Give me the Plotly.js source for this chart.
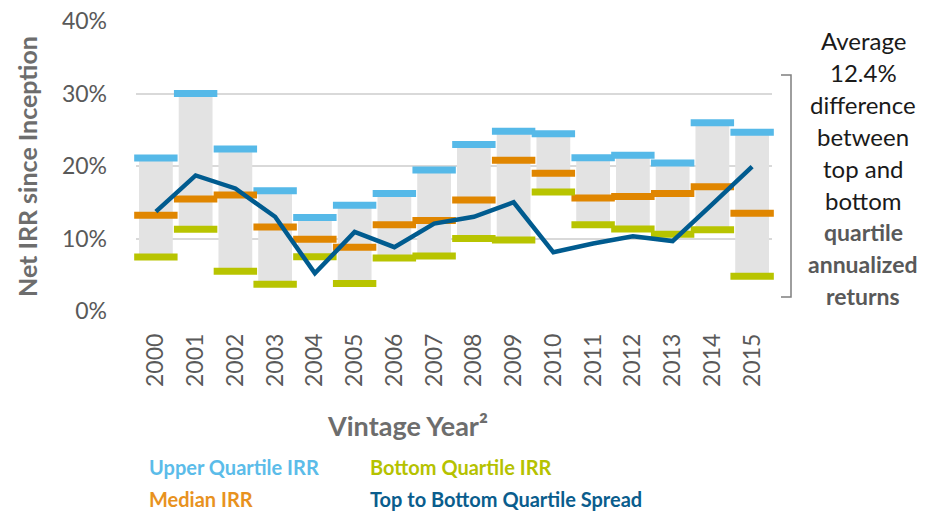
<!DOCTYPE html>
<html><head><meta charset="utf-8">
<script src="https://cdn.plot.ly/plotly-3.0.1.min.js"></script>
<style>html,body{margin:0;padding:0;background:#fff;}#chart{width:925px;height:515px;}</style>
</head><body><div id="chart"></div>
<script>
const years = ['2000','2001','2002','2003','2004','2005','2006','2007','2008','2009','2010','2011','2012','2013','2014','2015'];
const upper = [21.1,30.0,22.35,16.6,12.9,14.6,16.2,19.45,22.95,24.8,24.45,21.15,21.5,20.4,25.95,24.65];
const median = [13.2,15.45,16.0,11.6,9.9,8.8,11.9,12.5,15.3,20.8,19.0,15.6,15.8,16.2,17.15,13.5];
const bottom = [7.45,11.27,5.5,3.7,7.5,3.8,7.3,7.6,10.0,9.8,16.4,11.9,11.3,10.6,11.2,4.8];
const spread = [13.7,18.7,16.9,13.0,5.2,10.9,8.8,12.05,13.0,15.0,8.1,9.3,10.3,9.65,14.75,19.9];
const yTicks = [0,10,20,30,40];
const yTickText = ['0%','10%','20%','30%','40%'];
const legendItems = [
  {text:'Upper Quartile IRR', color:'#5bbce9', col:0, row:0},
  {text:'Median IRR', color:'#e8921e', col:0, row:1},
  {text:'Bottom Quartile IRR', color:'#b5c200', col:1, row:0},
  {text:'Top to Bottom Quartile Spread', color:'#0a5d8d', col:1, row:1}
];
const noteLines = ['Average','12.4%','difference','between','top and','bottom','quartile','annualized','returns'];

const W = 925, H = 515;
const M = {l:136, r:153, t:21, b:204};
const pw = W - M.l - M.r, ph = H - M.t - M.b;
const px2x = x => (x - M.l) / pw;
const px2y = y => (H - M.b - y) / ph;

const FONT = 'Lato, "Open Sans", sans-serif';

const traces = [
  {type:'bar', x:years, y:upper.map((u,i)=>u-bottom[i]), base:bottom, width:0.85,
   marker:{color:'#e3e3e3', line:{width:0}}, hoverinfo:'skip', showlegend:false},
  {type:'scatter', mode:'markers', x:years, y:upper, cliponaxis:false, showlegend:false,
   marker:{symbol:'line-ew', size:31, line:{width:7, color:'#56b9e8'}}},
  {type:'scatter', mode:'markers', x:years, y:median, cliponaxis:false, showlegend:false,
   marker:{symbol:'line-ew', size:31, line:{width:7, color:'#e08600'}}},
  {type:'scatter', mode:'markers', x:years, y:bottom, cliponaxis:false, showlegend:false,
   marker:{symbol:'line-ew', size:31, line:{width:7, color:'#b8c400'}}},
  {type:'scatter', mode:'lines', x:years, y:spread, cliponaxis:false, showlegend:false,
   line:{color:'#005b8f', width:4.5}}
];

const annotations = [];
legendItems.forEach(it => {
  annotations.push({xref:'paper', yref:'paper', x:px2x(it.col===0?147:368), y:px2y(it.row===0?467:499),
    xanchor:'left', yanchor:'middle', showarrow:false, text:'<b>'+it.text+'</b>',
    font:{family:FONT, size:20, color:it.color}});
});
noteLines.forEach((t,i) => {
  const bold = i >= 6;
  annotations.push({xref:'paper', yref:'paper', x:px2x(863), y:px2y(40 + i*32),
    xanchor:'center', yanchor:'middle', showarrow:false,
    text: bold ? '<b>'+t+'</b>' : t,
    font:{family:FONT, size:bold?23:24, color: bold ? '#595959' : '#1a1a1a'}});
});
annotations.push({xref:'paper', yref:'paper', x:px2x(407), y:px2y(425), xanchor:'center', yanchor:'middle',
  showarrow:false, text:'<b>Vintage Year²</b>', font:{family:FONT, size:27, color:'#6d6d6d'}});
annotations.push({xref:'paper', yref:'paper', x:px2x(27), y:px2y(167), xanchor:'center', yanchor:'middle',
  showarrow:false, textangle:-90, text:'<b>Net IRR since Inception</b>', font:{family:FONT, size:25, color:'#6d6d6d'}});

const shapes = [{type:'path', xref:'paper', yref:'paper', layer:'above',
  path:'M '+px2x(781)+' '+px2y(75)+' L '+px2x(791)+' '+px2y(75)+' L '+px2x(791)+' '+px2y(297)+' L '+px2x(781)+' '+px2y(297),
  line:{color:'#7f7f7f', width:1.5}}];

const layout = {
  width:W, height:H, margin:M, paper_bgcolor:'#fff', plot_bgcolor:'#fff',
  font:{family:FONT, color:'#595959'},
  showlegend:false, barmode:'overlay',
  xaxis:{type:'category', range:[-0.5, years.length-0.5], tickangle:-90, tickfont:{family:FONT, size:23, color:'#595959'},
    ticks:'', ticklabelstandoff:17, showgrid:false, zeroline:false, showline:false, fixedrange:true},
  yaxis:{range:[0,40], tickvals:yTicks, ticktext:yTickText, tickfont:{family:FONT, size:23, color:'#595959'},
    ticks:'', ticklabelstandoff:28, showgrid:true, gridcolor:'#d9d9d9', gridwidth:2, zeroline:false, showline:false},
  annotations, shapes
};
Plotly.newPlot('chart', traces, layout, {staticPlot:true, displayModeBar:false});
</script></body></html>
